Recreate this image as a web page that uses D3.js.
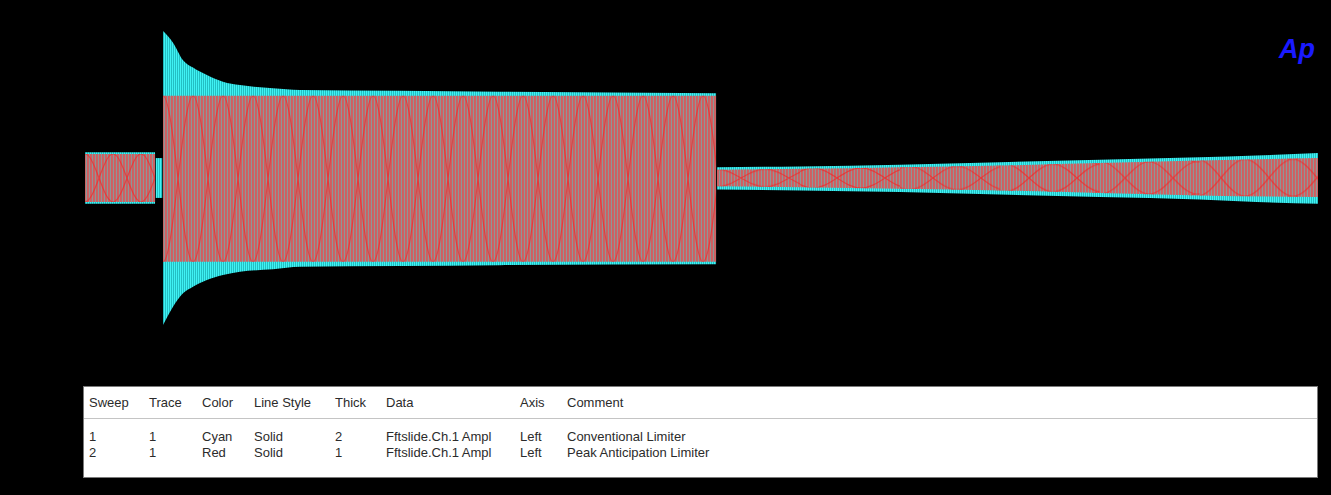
<!DOCTYPE html>
<html>
<head>
<meta charset="utf-8">
<script src="https://cdn.jsdelivr.net/npm/d3@7"></script>
<style>
body { margin: 0; background: #000; }
svg { display: block; }
</style>
</head>
<body>
<svg id="chart" width="1331" height="495"></svg>
<script>
// sweep 1 (cyan, conventional limiter): envelope of the trace, time in ms, amplitude in V
var cyanTime = [0, 56.8, 57.4, 62.6, 63.3, 71.4, 79.5, 87.6, 98.9, 111.9, 125.7, 152.5, 174.4, 255.5, 336.6, 511.8, 512.6, 580, 661, 742, 823, 904, 950, 1000];
var cyanSeg  = [0, 0, 1, 1, 2, 2, 2, 2, 2, 2, 2, 2, 2, 2, 2, 2, 3, 3, 3, 3, 3, 3, 3, 3];
var cyanMax  = [0.31, 0.31, 0.24, 0.24, 1.77, 1.63, 1.42, 1.33, 1.24, 1.16, 1.12, 1.08, 1.06, 1.05, 1.04, 1.02, 0.13, 0.14, 0.16, 0.19, 0.22, 0.25, 0.27, 0.30];
var cyanMin  = [-0.31, -0.31, -0.24, -0.24, -1.77, -1.55, -1.39, -1.31, -1.23, -1.17, -1.13, -1.10, -1.07, -1.06, -1.05, -1.04, -0.14, -0.15, -0.17, -0.20, -0.23, -0.26, -0.29, -0.31];

// sweep 2 (red, peak anticipation limiter)
var redTime = [0, 56.8, 63.3, 511.8, 512.6, 580, 661, 742, 823, 904, 1000];
var redSeg  = [0, 0, 2, 2, 3, 3, 3, 3, 3, 3, 3];
var redMax  = [0.29, 0.29, 0.99, 0.99, 0.10, 0.11, 0.13, 0.15, 0.18, 0.21, 0.24];
var redMin  = [-0.29, -0.29, -1.01, -1.01, -0.10, -0.11, -0.13, -0.15, -0.18, -0.21, -0.23];

// legend table
var legendHeaders = ["Sweep", "Trace", "Color", "Line Style", "Thick", "Data", "Axis", "Comment"];
var legendRows = [
  ["1", "1", "Cyan", "Solid", "2", "Fftslide.Ch.1 Ampl", "Left", "Conventional Limiter"],
  ["2", "1", "Red", "Solid", "1", "Fftslide.Ch.1 Ampl", "Left", "Peak Anticipation Limiter"]
];

// layout / style
var colX = [89, 149, 202, 254, 335, 386, 520, 567];
var lobePeriod = {0: 28, 2: 30, 3: 48};

var svg = d3.select("#chart");
svg.append("rect").attr("width", 1331).attr("height", 495).attr("fill", "#000");

var x = d3.scaleLinear().domain([0, 1000]).range([85, 1318]);
var y = d3.scaleLinear().domain([-2, 2]).range([344, 12]);

function rows(time, seg, max, min) {
  return time.map(function (t, i) { return {t: t, seg: seg[i], hi: max[i], lo: min[i]}; });
}
var cyanData = rows(cyanTime, cyanSeg, cyanMax, cyanMin);
var redData = rows(redTime, redSeg, redMax, redMin);

var defs = svg.append("defs");

// vertical hatch of the sampled trace
var pc = defs.append("pattern").attr("id", "cyanHatch")
  .attr("patternUnits", "userSpaceOnUse").attr("width", 2).attr("height", 8);
pc.append("rect").attr("width", 2).attr("height", 8).attr("fill", "#1cb3b7");
pc.append("rect").attr("width", 1.2).attr("height", 8).attr("fill", "#3ff2f4");

var pr = defs.append("pattern").attr("id", "redHatch")
  .attr("patternUnits", "userSpaceOnUse").attr("width", 3).attr("height", 8);
pr.append("rect").attr("width", 3).attr("height", 8).attr("fill", "#8f9696");
pr.append("rect").attr("width", 1.9).attr("height", 8).attr("fill", "#d05e60");

var area = d3.area()
  .x(function (d) { return x(d.t); })
  .y0(function (d) { return y(d.lo); })
  .y1(function (d) { return y(d.hi); })
  .curve(d3.curveMonotoneX);

var plot = svg.append("g");

d3.group(cyanData, function (d) { return d.seg; }).forEach(function (pts) {
  plot.append("path").attr("d", area(pts)).attr("fill", "url(#cyanHatch)");
});

var redGroups = d3.group(redData, function (d) { return d.seg; });
redGroups.forEach(function (pts) {
  plot.append("path").attr("d", area(pts)).attr("fill", "url(#redHatch)");
});

// beat lobes of the red trace, one pattern for each envelope piece
var k = 0;
var lin = d3.area()
  .x(function (d) { return x(d.t); })
  .y0(function (d) { return y(d.lo); })
  .y1(function (d) { return y(d.hi); });
redGroups.forEach(function (pts, s) {
  var P = lobePeriod[s];
  for (var i = 0; i < pts.length - 1; i++) {
    var a = pts[i], b = pts[i + 1];
    var top = y((a.hi + b.hi) / 2), bot = y((a.lo + b.lo) / 2), H = bot - top;
    var id = "lobe" + (k++);
    var p = defs.append("pattern").attr("id", id)
      .attr("patternUnits", "userSpaceOnUse")
      .attr("x", x(pts[0].t)).attr("y", top)
      .attr("width", P).attr("height", H);
    p.append("path")
      .attr("d", "M0,0 C" + (0.36 * P) + ",0 " + (0.64 * P) + "," + H + " " + P + "," + H +
                 " M0," + H + " C" + (0.36 * P) + "," + H + " " + (0.64 * P) + ",0 " + P + ",0")
      .attr("fill", "none").attr("stroke", "#f22424").attr("stroke-width", 1.2)
      .attr("stroke-opacity", 0.68);
    plot.append("path").attr("d", lin([a, b])).attr("fill", "url(#" + id + ")");
  }
});

// Ap logo
svg.append("text").attr("x", 1279).attr("y", 58)
  .attr("font-family", "Liberation Sans, Arial, sans-serif")
  .attr("font-size", 27).attr("font-weight", "bold").attr("font-style", "italic")
  .attr("fill", "#1a1aff").text("Ap");

// legend
var lg = svg.append("g").attr("font-family", "Liberation Sans, Arial, sans-serif")
  .attr("font-size", 13).attr("fill", "#2b2b2b");
lg.append("rect").attr("x", 83.5).attr("y", 386.5).attr("width", 1234).attr("height", 91)
  .attr("fill", "#fff").attr("stroke", "#7a7a7a");
lg.append("line").attr("x1", 84).attr("x2", 1317).attr("y1", 418.5).attr("y2", 418.5)
  .attr("stroke", "#c4c4c4");
lg.selectAll("text.h").data(legendHeaders).enter().append("text").attr("class", "h")
  .attr("x", function (d, i) { return colX[i]; }).attr("y", 406.5).text(function (d) { return d; });
legendRows.forEach(function (r, j) {
  lg.selectAll("text.r" + j).data(r).enter().append("text").attr("class", "r" + j)
    .attr("x", function (d, i) { return colX[i]; }).attr("y", 440.5 + j * 16)
    .text(function (d) { return d; });
});
</script>
</body>
</html>
